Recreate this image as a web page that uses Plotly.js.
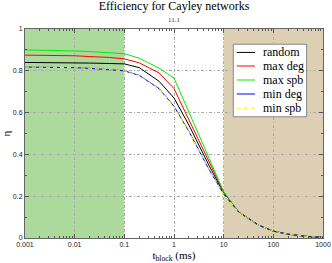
<!DOCTYPE html>
<html>
<head>
<meta charset="utf-8">
<script src="https://cdn.plot.ly/plotly-3.0.1.min.js"></script>
<style>html,body{margin:0;padding:0;background:#fff;}#chart{width:332px;height:263px;}</style>
</head>
<body>
<div id="chart"></div>
<script>
// ---- data ----
const tBlock = [0.001, 0.002, 0.005, 0.01, 0.02, 0.05, 0.1, 0.2, 0.5, 1, 2, 5, 10, 20, 50, 100, 200, 500, 1000];
const random = [0.840, 0.840, 0.839, 0.838, 0.837, 0.835, 0.833, 0.815, 0.750, 0.670, 0.540, 0.350, 0.215, 0.125, 0.062, 0.033, 0.018, 0.007, 0.003];
const maxDeg = [0.875, 0.875, 0.874, 0.872, 0.868, 0.864, 0.857, 0.838, 0.790, 0.715, 0.565, 0.370, 0.220, 0.125, 0.062, 0.033, 0.018, 0.007, 0.003];
const maxSpb = [0.900, 0.899, 0.897, 0.895, 0.892, 0.888, 0.882, 0.860, 0.813, 0.765, 0.600, 0.390, 0.222, 0.125, 0.062, 0.033, 0.018, 0.007, 0.003];
const minDeg = [0.818, 0.818, 0.817, 0.815, 0.812, 0.807, 0.800, 0.778, 0.715, 0.630, 0.510, 0.330, 0.210, 0.125, 0.062, 0.033, 0.018, 0.007, 0.003];
const minSpb = [0.818, 0.818, 0.817, 0.815, 0.812, 0.807, 0.800, 0.776, 0.713, 0.628, 0.508, 0.328, 0.210, 0.125, 0.062, 0.033, 0.018, 0.007, 0.003];
const seriesNames = ["random", "max deg", "max spb", "min deg", "min spb"];
const greenRegion = [0.001, 0.1];
const tanRegion = [10, 1000];
const xTickVals = [0.001, 0.01, 0.1, 1, 10, 100, 1000];
const xTickText = ["0.001", "0.01", "0.1", "1", "10", "100", "1000"];
const yTickVals = [0, 0.2, 0.4, 0.6, 0.8, 1];
const yTickText = ["0", "0.2", "0.4", "0.6", "0.8", "1"];

// ---- styles ----
const seriesY = [random, maxDeg, maxSpb, minDeg, minSpb];
const colors = ["#000000", "#ff0000", "#00ee00", "#0000ff", "#ffff00"];
const dashes = ["solid", "solid", "solid", "solid", "4px,3px"];
const serif = "Liberation Serif, Times New Roman, serif";
const sans = "Liberation Sans, Arial, sans-serif";

const traces = seriesY.map((ys, i) => ({
  x: tBlock, y: ys, type: "scatter", mode: "lines", name: seriesNames[i],
  line: {color: colors[i], width: 1, dash: dashes[i]}, showlegend: false
}));

const xlo = Math.log10(xTickVals[0]), xhi = Math.log10(xTickVals[xTickVals.length - 1]);
const toPaperX = v => (Math.log10(v) - xlo) / (xhi - xlo);

const shapes = [
  {type: "rect", xref: "paper", yref: "paper", x0: toPaperX(greenRegion[0]), x1: toPaperX(greenRegion[1]), y0: 0, y1: 1,
   fillcolor: "#acd99c", line: {width: 0}, layer: "below"},
  {type: "rect", xref: "paper", yref: "paper", x0: toPaperX(tanRegion[0]), x1: toPaperX(tanRegion[1]), y0: 0, y1: 1,
   fillcolor: "#ddcfb3", line: {width: 0}, layer: "below"},
  // legend box
  {type: "rect", xref: "paper", yref: "paper", x0: 0.699, x1: 0.945, y0: 0.580, y1: 0.927,
   fillcolor: "#ffffff", line: {color: "#888888", width: 1}, layer: "above"}
];
const annotations = [
  {text: "11.1", xref: "paper", yref: "paper", x: 0.5, y: 1.043, yanchor: "middle",
   showarrow: false, font: {family: serif, size: 7, color: "#333"}}
];
const legY = [0.888, 0.823, 0.756, 0.689, 0.621];
seriesNames.forEach((nm, i) => {
  shapes.push({type: "line", xref: "paper", yref: "paper", x0: 0.7105, x1: 0.772, y0: legY[i], y1: legY[i],
    line: {color: colors[i], width: 1, dash: dashes[i]}, layer: "above"});
  annotations.push({text: nm, xref: "paper", yref: "paper", x: 0.791, y: legY[i], xanchor: "left", yanchor: "middle",
    showarrow: false, font: {family: serif, size: 12, color: "#000"}});
});

const gridDash = "3px,2px,1px,2px";
const layout = {
  width: 332, height: 263,
  margin: {l: 25, r: 9, t: 29, b: 25, pad: 0},
  paper_bgcolor: "#ffffff", plot_bgcolor: "#ffffff",
  showlegend: false,
  title: {text: "Efficiency for Cayley networks", x: 0.5, xref: "paper", y: 1 - 6 / 263, yanchor: "middle",
          font: {family: serif, size: 12, color: "#000"}},
  xaxis: {
    type: "log", range: [xlo, xhi], tickvals: xTickVals, ticktext: xTickText,
    ticks: "inside", ticklen: 4, tickcolor: "#555", mirror: "ticks", showline: true, linecolor: "#666", linewidth: 1,
    showgrid: true, gridcolor: "#aaaaaa", griddash: gridDash, gridwidth: 1, zeroline: false,
    minor: {ticks: "inside", ticklen: 2, tickcolor: "#555", dtick: "D1", showgrid: false},
    tickfont: {family: sans, size: 7, color: "#222"},
    title: {text: "t<sub>block</sub> (ms)", font: {family: serif, size: 11, color: "#000"}, standoff: 4},
    automargin: false
  },
  yaxis: {
    range: [0, 1], tickvals: yTickVals, ticktext: yTickText,
    ticks: "inside", ticklen: 4, tickcolor: "#555", mirror: "ticks", showline: true, linecolor: "#666", linewidth: 1,
    showgrid: true, gridcolor: "#aaaaaa", griddash: gridDash, gridwidth: 1, zeroline: false,
    minor: {ticks: "inside", ticklen: 2, tickcolor: "#555", dtick: 0.1, showgrid: false},
    tickfont: {family: sans, size: 7, color: "#222"},
    title: {text: "η", font: {family: serif, size: 11, color: "#000"}, standoff: 2},
    automargin: false
  },
  shapes: shapes,
  annotations: annotations
};
Plotly.newPlot("chart", traces, layout, {displayModeBar: false, staticPlot: true});
</script>
</body>
</html>
